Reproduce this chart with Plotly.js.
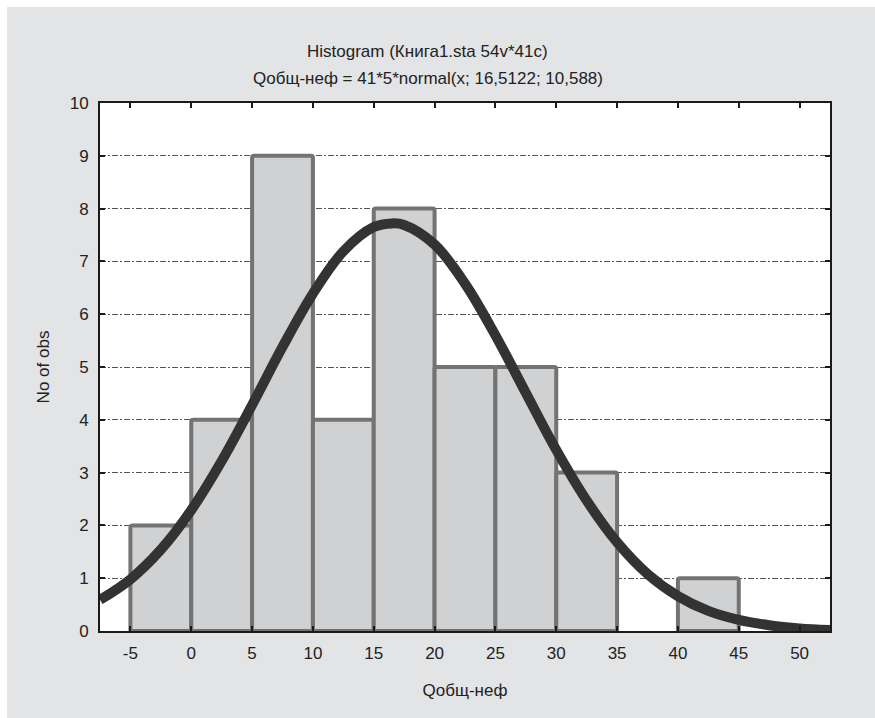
<!DOCTYPE html>
<html>
<head>
<meta charset="utf-8">
<script src="https://cdn.plot.ly/plotly-3.0.1.min.js"></script>
<style>
html,body{margin:0;padding:0;background:#ffffff;}
#chart{position:absolute;left:7px;top:7px;width:868px;height:711px;}
</style>
</head>
<body>
<div id="chart"></div>
<script>
// Histogram bins (centers) and counts
const binCenters = [-2.5, 2.5, 7.5, 12.5, 17.5, 22.5, 27.5, 32.5, 37.5, 42.5];
const binCounts  = [2, 4, 9, 4, 8, 5, 5, 3, 0, 1];
const binWidth = 5;

// Fitted normal curve
const curveX = [-7.5, -5, -2.5, 0, 2.5, 5, 7.5, 10, 12.5, 15, 16.5, 17.5, 20, 22.5, 25, 27.5, 30, 32.5, 35, 37.5, 40, 42.5, 45, 47.5, 50, 52.5];
const curveY = [0.59, 0.98, 1.54, 2.29, 3.22, 4.28, 5.38, 6.39, 7.19, 7.65, 7.72, 7.69, 7.32, 6.58, 5.60, 4.51, 3.43, 2.47, 1.68, 1.08, 0.66, 0.38, 0.21, 0.11, 0.05, 0.02];

const xTicks = [-5, 0, 5, 10, 15, 20, 25, 30, 35, 40, 45, 50];
const yTicks = [0, 1, 2, 3, 4, 5, 6, 7, 8, 9, 10];

const titleLine1 = "Histogram (Книга1.sta 54v*41c)";
const titleLine2 = "Qобщ-неф = 41*5*normal(x; 16,5122; 10,588)";
const xTitle = "Qобщ-неф";
const yTitle = "No of obs";

const font = "Liberation Sans, Arial, sans-serif";
const txt = '#222222';

const bars = {
  type: 'bar',
  x: binCenters,
  y: binCounts.map(v => v === 0 ? null : v),
  width: binCenters.map(() => binWidth),
  marker: {color: '#d0d1d3', line: {color: '#737373', width: 4}, cornerradius: 2},
  hoverinfo: 'skip',
  cliponaxis: false
};
const curve = {
  type: 'scatter',
  mode: 'lines',
  x: curveX,
  y: curveY,
  line: {color: '#333333', width: 10, shape: 'spline'},
  hoverinfo: 'skip'
};

const layout = {
  width: 868, height: 711,
  paper_bgcolor: '#e3e4e6',
  plot_bgcolor: '#ffffff',
  showlegend: false,
  margin: {l: 93, r: 45, t: 96, b: 87},
  font: {family: font, size: 17, color: txt},
  annotations: [
    {text: titleLine1, xref: 'paper', yref: 'paper', x: 0.4493, y: 1.0966,
     xanchor: 'center', yanchor: 'middle', showarrow: false,
     font: {family: font, size: 17, color: txt}},
    {text: titleLine2, xref: 'paper', yref: 'paper', x: 0.4493, y: 1.0455,
     xanchor: 'center', yanchor: 'middle', showarrow: false,
     font: {family: font, size: 17, color: txt}}
  ],
  xaxis: {
    range: [-7.5, 52.5],
    tickvals: xTicks,
    ticktext: xTicks.map(String),
    showgrid: false,
    zeroline: false,
    showline: true, linecolor: '#1a1a1a', linewidth: 2, mirror: 'ticks',
    ticks: 'inside', ticklen: 5, tickwidth: 2, tickcolor: '#1a1a1a',
    ticklabelstandoff: 6,
    tickfont: {family: font, size: 17, color: txt},
    title: {text: xTitle, standoff: 22, font: {family: font, size: 17, color: txt}}
  },
  yaxis: {
    range: [0, 10],
    tickvals: yTicks,
    ticktext: yTicks.map(String),
    showgrid: true, gridcolor: '#555555', gridwidth: 1, griddash: '6px,2px,2px,2px',
    zeroline: false,
    showline: true, linecolor: '#1a1a1a', linewidth: 2, mirror: 'ticks',
    ticks: 'inside', ticklen: 5, tickwidth: 2, tickcolor: '#1a1a1a',
    ticklabelstandoff: 6,
    tickfont: {family: font, size: 17, color: txt},
    title: {text: yTitle, standoff: 16, font: {family: font, size: 17, color: txt}}
  },
  bargap: 0
};

Plotly.newPlot('chart', [bars, curve], layout, {displayModeBar: false, staticPlot: true});
</script>
</body>
</html>
